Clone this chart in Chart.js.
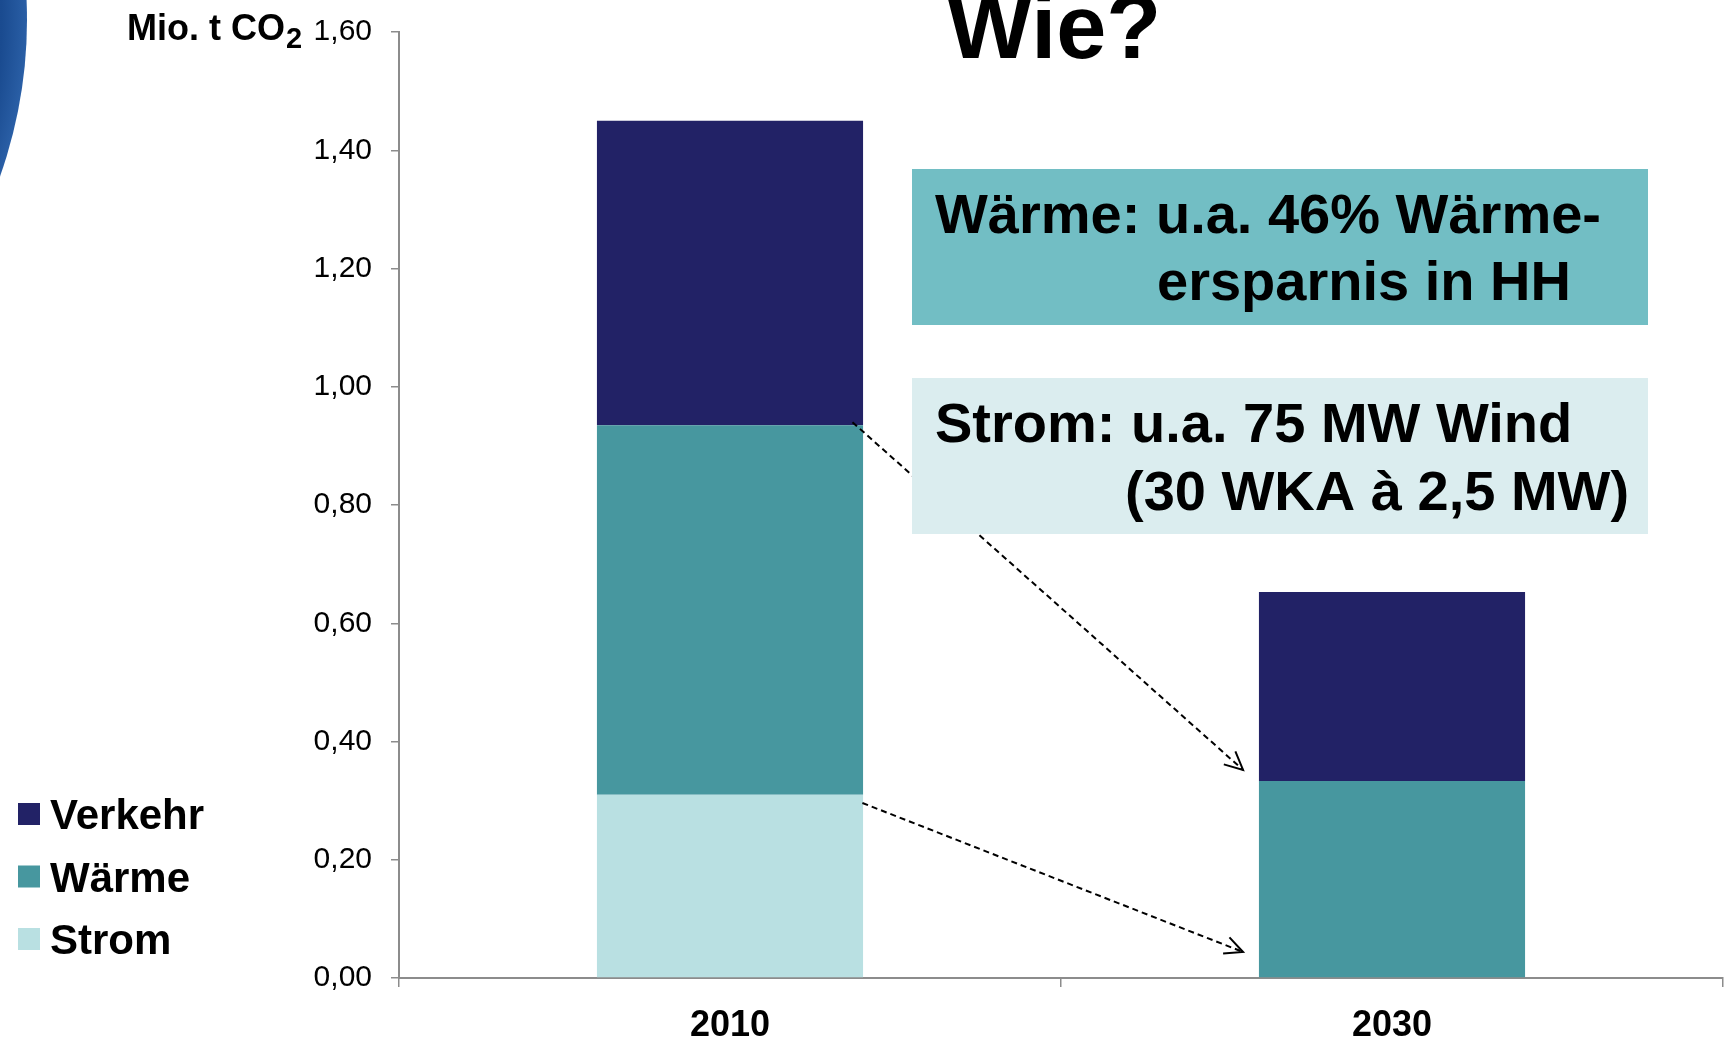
<!DOCTYPE html>
<html>
<head>
<meta charset="utf-8">
<script src="https://cdn.jsdelivr.net/npm/chart.js@4.4.1/dist/chart.umd.min.js"></script>
<style>
  html, body { margin: 0; padding: 0; background: #ffffff; }
  #wrap { width: 1732px; height: 1038px; position: relative; }
  canvas { display: block; }
</style>
</head>
<body>
<div id="wrap"><canvas id="c" width="1732" height="1038"></canvas></div>
<script>
// ---- data ----
const categories = ['2010', '2030'];
const strom   = [0.31, 0.0];
const waerme  = [0.625, 0.333];
const verkehr = [0.515, 0.32];
const yTickLabels = ['0,00', '0,20', '0,40', '0,60', '0,80', '1,00', '1,20', '1,40', '1,60'];
const seriesNames = ['Strom', 'Wärme', 'Verkehr'];
const seriesColors = ['#B9E0E2', '#47979F', '#222266'];

const FONT = '"Liberation Sans", Arial, Helvetica, sans-serif';

const decorPlugin = {
  id: 'decor',
  beforeDraw(chart) {
    const ctx = chart.ctx;
    ctx.save();
    ctx.fillStyle = '#ffffff';
    ctx.fillRect(0, 0, chart.width, chart.height);
    // logo arc at top-left
    const g = ctx.createRadialGradient(-440, 20, 300, -440, 20, 467);
    g.addColorStop(0, '#0e2e6b');
    g.addColorStop(0.85, '#1a4b90');
    g.addColorStop(1, '#2a5fa6');
    ctx.beginPath();
    ctx.arc(-440, 20, 467, 0, Math.PI * 2);
    ctx.fillStyle = g;
    ctx.fill();
    ctx.restore();
  },
  afterDatasetsDraw(chart) {
    const ctx = chart.ctx;
    const xs = chart.scales.x, ys = chart.scales.y;
    const step = xs.getPixelForValue(1) - xs.getPixelForValue(0);
    const arrows = [
      { from: [0, 0.185, 0.94], to: [1, -0.225, 0.352] },
      { from: [0, 0.20, 0.296], to: [1, -0.225, 0.044] }
    ];
    ctx.save();
    ctx.strokeStyle = '#000000';
    ctx.lineWidth = 2;
    arrows.forEach(a => {
      const x1 = xs.getPixelForValue(a.from[0]) + a.from[1] * step;
      const y1 = ys.getPixelForValue(a.from[2]);
      const x2 = xs.getPixelForValue(a.to[0]) + a.to[1] * step;
      const y2 = ys.getPixelForValue(a.to[2]);
      ctx.setLineDash([6, 4]);
      ctx.beginPath();
      ctx.moveTo(x1, y1);
      ctx.lineTo(x2, y2);
      ctx.stroke();
      ctx.setLineDash([]);
      const ang = Math.atan2(y2 - y1, x2 - x1);
      const L = 20, spread = 0.45;
      ctx.beginPath();
      ctx.moveTo(x2 - L * Math.cos(ang - spread), y2 - L * Math.sin(ang - spread));
      ctx.lineTo(x2, y2);
      ctx.lineTo(x2 - L * Math.cos(ang + spread), y2 - L * Math.sin(ang + spread));
      ctx.stroke();
    });
    ctx.restore();
  },
  afterDraw(chart) {
    const ctx = chart.ctx;
    ctx.save();
    ctx.textBaseline = 'alphabetic';
    ctx.fillStyle = '#000000';
    // title
    ctx.font = 'bold 90px ' + FONT;
    ctx.textAlign = 'left';
    ctx.fillText('Wie?', 947, 58);
    // unit label
    ctx.font = 'bold 36px ' + FONT;
    ctx.fillText('Mio. t CO', 127, 40);
    const w = ctx.measureText('Mio. t CO').width;
    ctx.font = 'bold 29px ' + FONT;
    ctx.fillText('2', 127 + w + 1, 48);

    // annotation boxes
    const boxes = [
      { x: 912, y: 169, w: 736, h: 156, color: '#72BEC4',
        lines: [['Wärme: u.a. 46% Wärme-', 935, 233], ['ersparnis in HH', 1157, 300]] },
      { x: 912, y: 378, w: 736, h: 156, color: '#DBEDEF',
        lines: [['Strom: u.a. 75 MW Wind', 935, 442], ['(30 WKA à 2,5 MW)', 1125, 510]] }
    ];
    boxes.forEach(b => {
      ctx.fillStyle = b.color;
      ctx.fillRect(b.x, b.y, b.w, b.h);
      ctx.fillStyle = '#000000';
      ctx.font = 'bold 56px ' + FONT;
      b.lines.forEach(l => ctx.fillText(l[0], l[1], l[2]));
    });

    // legend (top series first)
    const ds = chart.data.datasets.slice().reverse();
    ctx.font = 'bold 42px ' + FONT;
    ds.forEach((d, i) => {
      const cy = 814 + i * 62.5;
      ctx.fillStyle = d.backgroundColor;
      ctx.fillRect(18, cy - 11, 22, 22);
      ctx.fillStyle = '#000000';
      ctx.fillText(d.label, 50, cy + 15);
    });
    ctx.restore();
  }
};

const datasets = [strom, waerme, verkehr].map((vals, i) => ({
  label: seriesNames[i],
  data: vals,
  backgroundColor: seriesColors[i],
  borderWidth: 0,
  categoryPercentage: 1.0,
  barPercentage: 0.402
}));

new Chart(document.getElementById('c'), {
  type: 'bar',
  data: { labels: categories, datasets },
  options: {
    responsive: false,
    animation: false,
    devicePixelRatio: 1,
    layout: { padding: { top: 32, right: 9, left: 0, bottom: 0 } },
    plugins: { legend: { display: false }, tooltip: { enabled: false } },
    scales: {
      x: {
        stacked: true,
        afterFit(s) { s.height = 60; s.paddingLeft = 0; s.paddingRight = 0; },
        grid: { offset: true, drawOnChartArea: false, tickLength: 9, color: '#8c8c8c', lineWidth: 1.5 },
        border: { display: true, color: '#8c8c8c', width: 2 },
        ticks: { color: '#000000', font: { family: FONT, size: 36, weight: 'bold' }, padding: 17 }
      },
      y: {
        stacked: true,
        min: 0, max: 1.6,
        afterFit(s) { s.width = 399; s.paddingTop = 0; s.paddingBottom = 0; },
        grid: { drawOnChartArea: false, tickLength: 8, color: '#8c8c8c', lineWidth: 1.5 },
        border: { display: true, color: '#8c8c8c', width: 2 },
        ticks: {
          stepSize: 0.2,
          color: '#000000',
          padding: 19,
          font: { family: FONT, size: 30 },
          callback: (v, idx) => yTickLabels[idx]
        }
      }
    }
  },
  plugins: [decorPlugin]
});
</script>
</body>
</html>
